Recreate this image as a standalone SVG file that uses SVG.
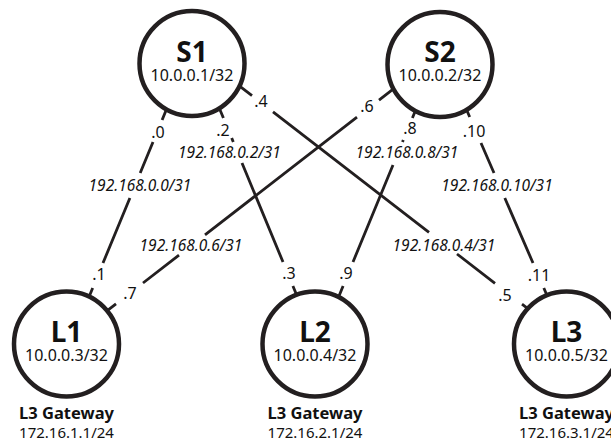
<svg xmlns="http://www.w3.org/2000/svg" width="611" height="442" viewBox="0 0 611 442">
  <style>
    .link { stroke: #231f20; stroke-width: 2.8; fill: none; stroke-linecap: butt; }
    .node circle { fill: #ffffff; stroke: #231f20; stroke-width: 4.5; }
    text { font-family: "Noto Sans", "Liberation Sans", sans-serif; fill: #111111; text-anchor: middle; }
    .name { font-size: 28px; font-weight: 700; }
    .addr { font-size: 16px; }
    .gw { font-size: 16.5px; font-weight: 700; }
    .gwaddr { font-size: 15px; }
    .net { font-size: 15.5px; font-style: italic; }
    .host { font-size: 16px; }
  </style>
  <rect width="611" height="442" fill="#ffffff"/>

  <!-- point-to-point links, broken where their labels sit -->
  <g id="connectors">
    <!-- S1 - L1 : 192.168.0.0/31 -->
    <g id="link-s1-l1">
      <path class="link" d="M170.3,100 L162.1,120 M153,142 L140.2,173 M129.9,198 L103,263 M92.7,288 L83.6,310"/>
      <text class="host" x="158" y="138">.0</text>
      <text class="net" x="140" y="191">192.168.0.0/31</text>
      <text class="host" x="99" y="280">.1</text>
    </g>
    <!-- S1 - L2 : 192.168.0.2/31 -->
    <g id="link-s1-l2">
      <path class="link" d="M215.9,100 L223.4,118 M231.7,138 L233.3,142 M242,163 L283,262 M292.9,286 L302.9,310"/>
      <text class="host" x="223" y="136">.2</text>
      <text class="net" x="229.5" y="158">192.168.0.2/31</text>
      <text class="host" x="289" y="279">.3</text>
    </g>
    <!-- S1 - L3 : 192.168.0.4/31 -->
    <g id="link-s1-l3">
      <path class="link" d="M225,74.9 L252,95.7 M273,111.9 L429,232.4 M457,254 L495,283.3 M522,304.2 L545,321.9"/>
      <text class="host" x="261" y="107">.4</text>
      <text class="net" x="444" y="251">192.168.0.4/31</text>
      <text class="host" x="505" y="301">.5</text>
    </g>
    <!-- S2 - L1 : 192.168.0.6/31 -->
    <g id="link-s2-l1">
      <path class="link" d="M405,79.9 L379,100.1 M357,117.1 L205,234.9 M179,255.1 L143,283 M116,303.9 L95,320.2"/>
      <text class="host" x="367" y="112">.6</text>
      <text class="net" x="191" y="251">192.168.0.6/31</text>
      <text class="host" x="130" y="299">.7</text>
    </g>
    <!-- S2 - L2 : 192.168.0.8/31 -->
    <g id="link-s2-l2">
      <path class="link" d="M419.8,100 L412.4,118 M403.3,140 L402.5,142 M393,165 L353,262 M343.1,286 L333.3,310"/>
      <text class="host" x="410" y="134">.8</text>
      <text class="net" x="407" y="158">192.168.0.8/31</text>
      <text class="host" x="346" y="279">.9</text>
    </g>
    <!-- S2 - L3 : 192.168.0.10/31 -->
    <g id="link-s2-l3">
      <path class="link" d="M462.4,100 L469.7,117 M481,143 L494,173 M504.8,198 L533,263 M543.8,288 L553.3,310"/>
      <text class="host" x="474" y="137">.10</text>
      <text class="net" x="497" y="191">192.168.0.10/31</text>
      <text class="host" x="539" y="281">.11</text>
    </g>
  </g>

  <!-- spine switches -->
  <g id="S1" class="node">
    <circle cx="192" cy="63.5" r="52.5"/>
    <text class="name" x="192" y="62">S1</text>
    <text class="addr" x="192" y="81">10.0.0.1/32</text>
  </g>
  <g id="S2" class="node">
    <circle cx="440" cy="64.5" r="52.5"/>
    <text class="name" x="440" y="62">S2</text>
    <text class="addr" x="440" y="81">10.0.0.2/32</text>
  </g>

  <!-- leaf switches -->
  <g id="L1" class="node">
    <circle cx="66.5" cy="344" r="52.5"/>
    <text class="name" x="66.5" y="342">L1</text>
    <text class="addr" x="66.5" y="361">10.0.0.3/32</text>
    <text class="gw" x="66.5" y="419">L3 Gateway</text>
    <text class="gwaddr" x="66.5" y="438">172.16.1.1/24</text>
  </g>
  <g id="L2" class="node">
    <circle cx="315" cy="344" r="52.5"/>
    <text class="name" x="315" y="342">L2</text>
    <text class="addr" x="315" y="361">10.0.0.4/32</text>
    <text class="gw" x="315" y="419">L3 Gateway</text>
    <text class="gwaddr" x="315" y="438">172.16.2.1/24</text>
  </g>
  <g id="L3" class="node">
    <circle cx="566.5" cy="344" r="52.5"/>
    <text class="name" x="566.5" y="342">L3</text>
    <text class="addr" x="566.5" y="361">10.0.0.5/32</text>
    <text class="gw" x="566.5" y="419">L3 Gateway</text>
    <text class="gwaddr" x="566.5" y="438">172.16.3.1/24</text>
  </g>
</svg>
